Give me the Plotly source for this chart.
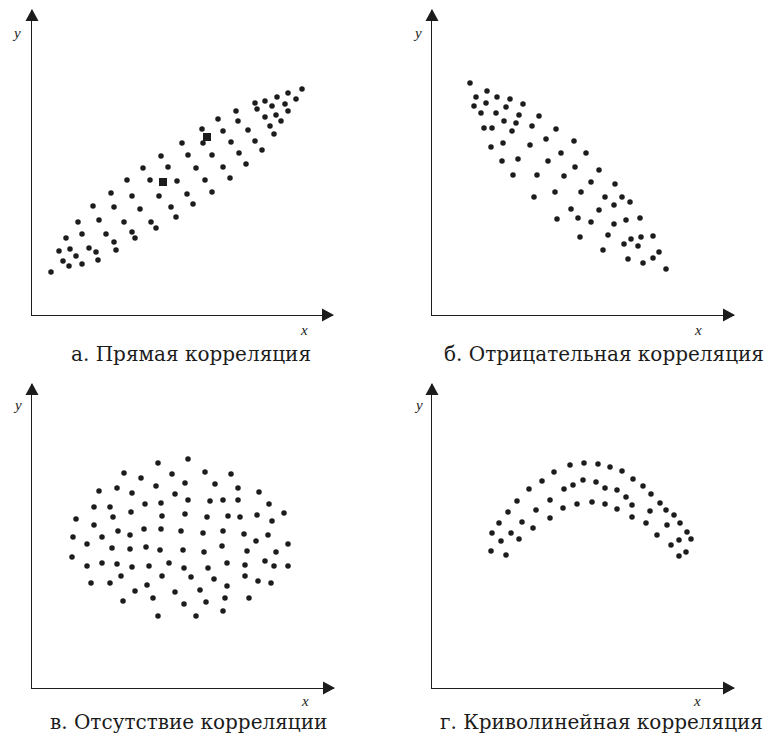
import plotly.graph_objects as go

W, H = 769, 738

# ---- data (panel-local units, origin at axes intersection) ----
a_x = [270, 256, 245, 233, 223, 264, 253, 240, 225, 256, 204, 244, 233, 186, 206, 249, 238, 170, 191, 216,
       242, 150, 171, 199, 223, 230, 129, 156, 180, 207, 214, 111, 136, 164, 191, 198, 95, 118, 145, 173,
       180, 79, 100, 127, 155, 161, 61, 82, 108, 139, 144, 46, 67, 92, 119, 124, 34, 50, 74, 100,
       103, 27, 38, 57, 82, 84, 44, 64, 31, 37, 50, 66, 19]
a_y = [226, 222, 218, 214, 212, 216, 211, 209, 206, 204, 204, 200, 198, 196, 194, 194, 189, 186, 184, 185,
       181, 172, 172, 173, 174, 165, 159, 160, 160, 162, 151, 147, 148, 147, 148, 137, 135, 135, 134, 135,
       123, 122, 119, 119, 121, 111, 109, 108, 106, 108, 98, 93, 95, 93, 93, 87, 77, 81, 81, 83,
       77, 64, 66, 67, 73, 65, 59, 63, 54, 49, 51, 55, 43]
a_sq_x = [175, 131]
a_sq_y = [178, 133]

b_x = [38, 55, 44, 65, 78, 54, 74, 91, 42, 49, 64, 87, 107, 72, 84, 52, 60, 80, 100, 124,
       114, 142, 71, 98, 59, 129, 154, 70, 86, 116, 143, 167, 81, 105, 132, 159, 183, 102, 123, 149,
       173, 190, 198, 182, 139, 167, 125, 146, 159, 182, 194, 208, 148, 176, 199, 209, 221, 192, 206, 171,
       227, 196, 211, 221, 234]
b_y = [232, 224, 218, 218, 216, 212, 208, 211, 209, 202, 202, 200, 199, 194, 192, 187, 187, 184, 189, 186,
       176, 174, 172, 170, 168, 162, 162, 154, 156, 154, 148, 145, 140, 140, 139, 133, 131, 118, 123, 123,
       118, 118, 113, 110, 106, 105, 96, 97, 93, 91, 95, 97, 78, 80, 76, 78, 79, 71, 69, 65,
       63, 56, 52, 57, 46]

c_x = [156, 126, 92, 109, 140, 173, 199, 153, 124, 183, 206, 67, 85, 100, 143, 227, 62, 78, 113, 129,
       156, 178, 191, 206, 237, 44, 81, 99, 130, 153, 175, 196, 208, 225, 240, 252, 62, 86, 98, 112,
       129, 149, 171, 191, 212, 224, 236, 41, 55, 70, 80, 98, 114, 128, 151, 172, 190, 215, 244, 256,
       40, 55, 70, 85, 100, 117, 137, 152, 176, 195, 213, 233, 242, 256, 59, 78, 89, 115, 130, 159,
       182, 195, 213, 226, 239, 103, 121, 143, 168, 91, 152, 174, 193, 217, 126, 164, 191]
c_y = [229, 225, 215, 210, 214, 216, 214, 205, 202, 204, 200, 197, 200, 195, 194, 196, 181, 181, 184, 185,
       188, 187, 188, 188, 184, 169, 171, 176, 172, 174, 171, 172, 171, 173, 167, 175, 163, 157, 153, 159,
       159, 157, 155, 157, 154, 147, 153, 151, 144, 151, 140, 139, 141, 138, 138, 136, 142, 137, 136, 144,
       131, 122, 125, 124, 121, 122, 125, 120, 120, 125, 123, 127, 122, 122, 105, 105, 112, 103, 112, 111,
       109, 102, 112, 107, 105, 97, 90, 96, 98, 87, 84, 86, 90, 90, 72, 72, 77]

d_x = [59, 74, 60, 69, 79, 87, 67, 76, 90, 101, 85, 104, 118, 97, 110, 118, 131, 122, 132, 138,
       141, 145, 152, 151, 160, 166, 164, 173, 178, 173, 185, 190, 185, 194, 200, 200, 201, 211, 218, 214,
       219, 225, 228, 234, 235, 242, 248, 255, 259, 247, 239, 254, 247]
d_y = [137, 133, 155, 147, 155, 149, 165, 176, 166, 160, 187, 178, 170, 199, 207, 188, 180, 216, 199, 223,
       203, 184, 225, 208, 186, 224, 206, 184, 221, 200, 179, 217, 198, 191, 183, 171, 209, 202, 177, 165,
       194, 153, 185, 178, 163, 173, 165, 156, 149, 148, 143, 136, 132]

captions = ["а. Прямая корреляция", "б. Отрицательная корреляция",
            "в. Отсутствие корреляции", "г. Криволинейная корреляция"]

# ---- layout geometry (pixels) ----
# (origin x, origin y, x-axis length, y-axis length)
panels = [(32, 315, 301, 305), (432, 315, 302, 305), (32, 688, 302, 304), (432, 688, 302, 304)]
cap_pos = [(191, 354), (604, 354), (188, 722), (601, 722)]
ylab_pos = [(16, 33), (417, 33), (17, 405), (418, 405)]
xlab_pos = [(304, 330), (698, 330), (305, 701), (697, 701)]

INK = "#1c1c1c"
fig = go.Figure()
layout = dict(width=W, height=H, margin=dict(l=0, r=0, t=0, b=0),
              paper_bgcolor="white", plot_bgcolor="white", showlegend=False)
shapes, annotations = [], []

series = [(a_x, a_y), (b_x, b_y), (c_x, c_y), (d_x, d_y)]
for i, ((ox, oy, lx, ly), (xs, ys)) in enumerate(zip(panels, series)):
    k = "" if i == 0 else str(i + 1)
    xa, ya = "x" + k, "y" + k
    layout["xaxis" + k] = dict(domain=[ox / W, (ox + lx) / W], range=[0, lx], anchor=ya,
                               showgrid=False, zeroline=False, showticklabels=False, ticks="",
                               showline=True, linecolor=INK, linewidth=1.4, fixedrange=True)
    layout["yaxis" + k] = dict(domain=[(H - oy) / H, (H - oy + ly) / H], range=[0, ly], anchor=xa,
                               showgrid=False, zeroline=False, showticklabels=False, ticks="",
                               showline=True, linecolor=INK, linewidth=1.4, fixedrange=True)
    fig.add_trace(go.Scatter(x=xs, y=ys, mode="markers", xaxis=xa, yaxis=ya,
                             marker=dict(size=5.5, color=INK, line=dict(width=0)),
                             hoverinfo="skip", cliponaxis=False))
    if i == 0:
        fig.add_trace(go.Scatter(x=a_sq_x, y=a_sq_y, mode="markers", xaxis=xa, yaxis=ya,
                                 marker=dict(size=8, symbol="square", color=INK, line=dict(width=0)),
                                 hoverinfo="skip", cliponaxis=False))
    # arrowheads
    shapes.append(dict(type="path", xref="paper", yref="paper", xsizemode="pixel", ysizemode="pixel",
                       xanchor=(ox + lx) / W, yanchor=(H - oy) / H,
                       path="M1,0 L-11,6.5 L-11,-6.5 Z", fillcolor=INK, line=dict(width=0)))
    shapes.append(dict(type="path", xref="paper", yref="paper", xsizemode="pixel", ysizemode="pixel",
                       xanchor=ox / W, yanchor=(H - oy + ly) / H,
                       path="M0,1 L-6.5,-11 L6.5,-11 Z", fillcolor=INK, line=dict(width=0)))
    cx, cy = cap_pos[i]
    annotations.append(dict(text=captions[i], xref="paper", yref="paper", x=cx / W, y=1 - cy / H,
                            showarrow=False, xanchor="center", yanchor="middle",
                            font=dict(family="DejaVu Serif", size=20, color=INK)))
    yx, yy = ylab_pos[i]
    annotations.append(dict(text="<i>y</i>", xref="paper", yref="paper", x=yx / W, y=1 - yy / H,
                            showarrow=False, xanchor="center", yanchor="middle",
                            font=dict(family="Liberation Serif", size=15, color=INK)))
    xx, xy = xlab_pos[i]
    annotations.append(dict(text="<i>x</i>", xref="paper", yref="paper", x=xx / W, y=1 - xy / H,
                            showarrow=False, xanchor="center", yanchor="middle",
                            font=dict(family="Liberation Serif", size=15, color=INK)))

layout["shapes"] = shapes
layout["annotations"] = annotations
fig.update_layout(**layout)
fig.write_html("out.html", config={"displayModeBar": False},
               post_script="document.body.style.margin='0';")
